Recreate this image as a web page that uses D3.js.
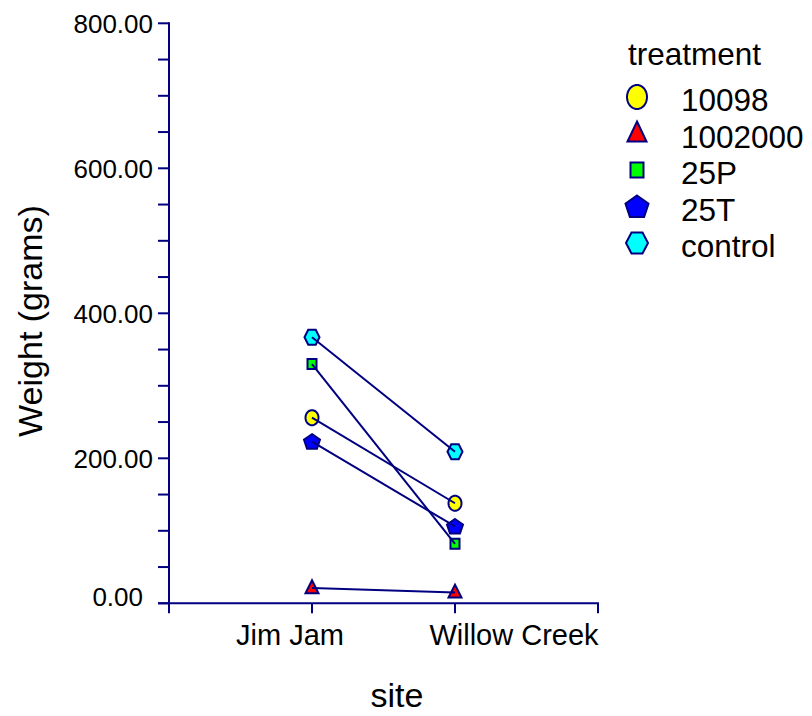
<!DOCTYPE html>
<html>
<head>
<meta charset="utf-8">
<script src="https://cdn.jsdelivr.net/npm/d3@7"></script>
<style>
  html, body { margin: 0; padding: 0; background: #fff; }
  svg { display: block; font-family: "Liberation Sans", Arial, sans-serif; }
</style>
</head>
<body>
<svg id="chart" width="812" height="716"></svg>
<script>
// ---- data ----
const sites = ["Jim Jam", "Willow Creek"];
const treatments = ["10098", "1002000", "25P", "25T", "control"];
const w10098 = [256, 138];
const w1002000 = [21, 15];
const w25P = [330, 82];
const w25T = [223, 106];
const wControl = [367, 209];
const yTicks = [0, 200, 400, 600, 800];
const yMinorStep = 50;

const seriesValues = [w10098, w1002000, w25P, w25T, wControl];
const fills = ["#ffff00", "#ff0000", "#00ff00", "#0000ff", "#00ffff"];
const shapes = ["circle", "triangle", "square", "pentagon", "hexagon"];
const navy = "#000080";

const svg = d3.select("#chart");

// ---- scales ----
const y = d3.scaleLinear().domain([0, 800]).range([603.3, 23.3]);
const x = d3.scaleLinear().domain([0, sites.length + 1]).range([169, 598]);

// ---- marker shape paths ----
function shapePath(shape, w, h) {
  const p = d3.path();
  if (shape === "circle") {
    const n = 48;
    for (let i = 0; i <= n; i++) {
      const a = (i / n) * 2 * Math.PI;
      const px = (w / 2) * Math.cos(a), py = (h / 2) * Math.sin(a);
      if (i === 0) p.moveTo(px, py); else p.lineTo(px, py);
    }
  } else if (shape === "triangle") {
    p.moveTo(0, -h * 0.6); p.lineTo(w / 2, h * 0.4); p.lineTo(-w / 2, h * 0.4);
  } else if (shape === "square") {
    p.rect(-w / 2, -h / 2, w, h);
  } else if (shape === "pentagon") {
    for (let i = 0; i < 5; i++) {
      const a = -Math.PI / 2 + i * 2 * Math.PI / 5;
      const px = (w / 2) / Math.cos(Math.PI / 10) * Math.cos(a);
      const py = (h / 2) * 1.08 * Math.sin(a) + h * 0.04;
      if (i === 0) p.moveTo(px, py); else p.lineTo(px, py);
    }
  } else if (shape === "hexagon") {
    p.moveTo(-w / 2, 0); p.lineTo(-w / 4, -h / 2); p.lineTo(w / 4, -h / 2);
    p.lineTo(w / 2, 0); p.lineTo(w / 4, h / 2); p.lineTo(-w / 4, h / 2);
  }
  p.closePath();
  return p.toString();
}
const plotSize = { circle: [13, 15], triangle: [13, 13], square: [9, 10], pentagon: [16, 15], hexagon: [15, 15] };
const legendSize = { circle: [20, 24], triangle: [19, 20], square: [13, 15], pentagon: [23, 22], hexagon: [22, 21] };

// ---- y axis ----
const yAxisG = svg.append("g");
const minorVals = d3.range(0, 801, yMinorStep);
yAxisG.selectAll("line.tick").data(minorVals).join("line")
  .attr("x1", 158).attr("x2", 169)
  .attr("y1", d => y(d)).attr("y2", d => y(d))
  .attr("stroke", navy).attr("stroke-width", 2);
yAxisG.append("line")
  .attr("x1", 169).attr("x2", 169).attr("y1", y(800) - 1).attr("y2", 613)
  .attr("stroke", navy).attr("stroke-width", 2);
yAxisG.selectAll("text").data(yTicks).join("text")
  .attr("x", d => d === 0 ? 143 : 153)
  .attr("y", d => d === 0 ? y(d) - 7 : y(d))
  .attr("dy", "0.36em")
  .attr("text-anchor", "end")
  .attr("font-size", 26)
  .attr("fill", "#000")
  .text(d => d3.format(".2f")(d));

// ---- x axis ----
const xAxisG = svg.append("g");
xAxisG.append("line")
  .attr("x1", 158).attr("x2", x(sites.length + 1) + 1).attr("y1", y(0)).attr("y2", y(0))
  .attr("stroke", navy).attr("stroke-width", 2);
xAxisG.selectAll("line.tick").data(d3.range(0, sites.length + 2)).join("line")
  .attr("x1", d => x(d)).attr("x2", d => x(d))
  .attr("y1", y(0)).attr("y2", y(0) + 10)
  .attr("stroke", navy).attr("stroke-width", 2);
const xLabelShift = [-22, 59];
xAxisG.selectAll("text").data(sites).join("text")
  .attr("x", (d, i) => x(i + 1) + xLabelShift[i])
  .attr("y", 645)
  .attr("text-anchor", "middle")
  .attr("font-size", 29)
  .attr("fill", "#000")
  .text(d => d);

// ---- axis titles ----
svg.append("text")
  .attr("transform", "translate(42,321) rotate(-90)")
  .attr("text-anchor", "middle")
  .attr("font-size", 34)
  .attr("fill", "#000")
  .text("Weight (grams)");
svg.append("text")
  .attr("x", 397).attr("y", 707)
  .attr("text-anchor", "middle")
  .attr("font-size", 34)
  .attr("fill", "#000")
  .text("site");

// ---- markers ----
const plotG = svg.append("g");
treatments.forEach((t, k) => {
  const vals = seriesValues[k];
  const sz = plotSize[shapes[k]];
  plotG.selectAll(null).data(vals).join("path")
    .attr("d", shapePath(shapes[k], sz[0], sz[1]))
    .attr("transform", (d, i) => `translate(${x(i + 1)},${y(d)})`)
    .attr("fill", fills[k])
    .attr("stroke", navy)
    .attr("stroke-width", 2);
});
// ---- lines (drawn over markers, as in the reference) ----
const line = d3.line().x((d, i) => x(i + 1)).y(d => y(d));
treatments.forEach((t, k) => {
  plotG.append("path")
    .attr("d", line(seriesValues[k]))
    .attr("fill", "none")
    .attr("stroke", navy)
    .attr("stroke-width", 2);
});

// ---- legend ----
const legend = svg.append("g");
legend.append("text")
  .attr("x", 628).attr("y", 65)
  .attr("font-size", 31.5)
  .attr("fill", "#000")
  .text("treatment");
const rowY = i => 97 + i * 36.5;
treatments.forEach((t, k) => {
  const sz = legendSize[shapes[k]];
  legend.append("path")
    .attr("d", shapePath(shapes[k], sz[0], sz[1]))
    .attr("transform", `translate(637,${rowY(k)})`)
    .attr("fill", fills[k])
    .attr("stroke", navy)
    .attr("stroke-width", 2);
  legend.append("text")
    .attr("x", 681).attr("y", rowY(k) + 14)
    .attr("font-size", 31.5)
    .attr("fill", "#000")
    .text(t);
});
</script>
</body>
</html>
